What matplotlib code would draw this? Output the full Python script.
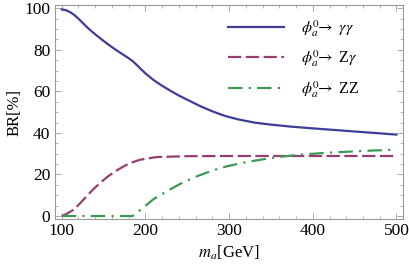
import matplotlib
matplotlib.use("Agg")
import matplotlib.pyplot as plt
from matplotlib.ticker import MultipleLocator

plt.rcParams['font.family'] = ['Liberation Serif', 'DejaVu Serif']
plt.rcParams['mathtext.fontset'] = 'stix'

# gamma gamma
x_gg = [100, 105, 110, 115, 120, 125, 130, 135, 140, 150, 160, 170, 180, 185, 190, 195, 200, 210, 220, 230, 240, 250, 265, 280, 295, 310, 330, 350, 375, 400, 450, 500]
y_gg = [99.5, 99.1, 98.2, 96.8, 95.0, 93.0, 91.0, 89.2, 87.5, 84.3, 81.3, 78.6, 76.0, 74.5, 72.6, 70.6, 68.7, 65.4, 62.7, 60.3, 58.0, 56.0, 53.0, 50.4, 48.2, 46.6, 45.0, 44.0, 43.0, 42.2, 40.7, 39.2]

# Z gamma
x_zg = [100, 105, 113.6, 120, 129.6, 137, 145.6, 155, 165.6, 174, 181.6, 193.6, 213.6, 250, 300, 400, 500]
y_zg = [0.0, 0.8, 2.9, 5.3, 9.4, 12.6, 15.8, 19.0, 21.9, 23.9, 25.5, 27.1, 28.4, 28.8, 28.9, 28.9, 28.9]

# ZZ
x_zz = [100, 185, 190, 200, 210, 220, 230, 245, 262, 280, 298, 320, 342, 365, 390, 415, 438, 470, 496]
y_zz = [0.0, 0.0, 1.7, 4.9, 8.2, 10.6, 12.9, 16.2, 19.2, 21.9, 24.0, 25.9, 27.4, 28.7, 29.7, 30.4, 30.9, 31.5, 31.9]

labels = [r'$\phi_a^0\!\!\rightarrow$ $\gamma\gamma$',
          r'$\phi_a^0\!\!\rightarrow$ Z$\gamma$',
          r'$\phi_a^0\!\!\rightarrow$ ZZ']

fig = plt.figure(figsize=(4.09, 2.71), dpi=100)
ax = fig.add_axes([0.1333, 0.1919, 0.852, 0.7896])

ax.plot(x_gg, y_gg, color='#3d3d99', lw=1.6, label=labels[0])
ax.plot(x_zg, y_zg, color='#993d71', lw=1.6, linestyle=(0, (6, 2)), label=labels[1])
ax.plot(x_zz, y_zz, color='#3d9954', lw=1.6, linestyle=(0, (6.5, 2.8, 1, 2.8)), label=labels[2])

ax.set_xlim(91.4, 507.8)
ax.set_ylim(-1.44, 101.6)
ax.xaxis.set_major_locator(MultipleLocator(100))
ax.xaxis.set_minor_locator(MultipleLocator(20))
ax.yaxis.set_major_locator(MultipleLocator(20))
ax.yaxis.set_minor_locator(MultipleLocator(5))
ax.tick_params(which='both', direction='in', top=True, right=True, color='#999999',
               labelsize=12.5, pad=3)
ax.tick_params(which='major', length=4.5, width=0.6)
ax.tick_params(which='minor', length=2.5, width=0.5)
for s in ax.spines.values():
    s.set_color('#999999')
    s.set_linewidth(0.8)

ax.set_xlabel(r'$m_a$[GeV]', fontsize=12, labelpad=3)
ax.set_ylabel('BR[%]', fontsize=12, labelpad=1)

ax.legend(loc='upper left', bbox_to_anchor=(228/409, 1 - 18/271), bbox_transform=fig.transFigure,
          frameon=False, fontsize=11.5, handlelength=3.5, handletextpad=1.1,
          labelspacing=0.6, borderpad=0, borderaxespad=0)

fig.savefig('out.png', dpi=100)
